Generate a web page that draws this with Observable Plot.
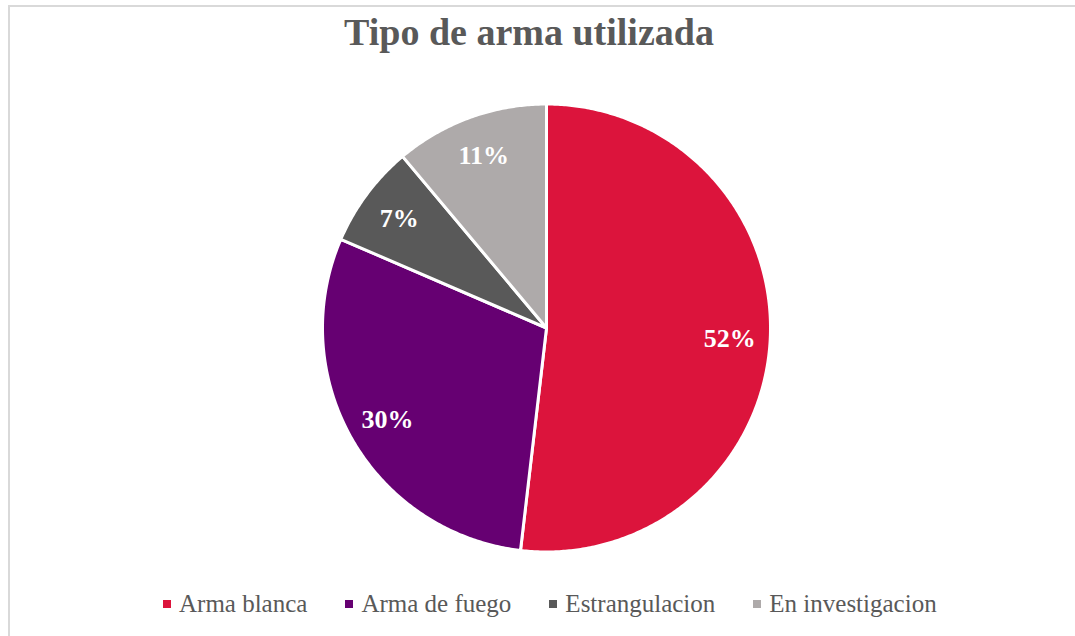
<!DOCTYPE html>
<html>
<head>
<meta charset="utf-8">
<script src="https://cdn.jsdelivr.net/npm/d3@7"></script>
<script src="https://cdn.jsdelivr.net/npm/@observablehq/plot@0.6"></script>
<style>
  html, body { margin: 0; padding: 0; background: #fff; }
  body { width: 1075px; height: 636px; overflow: hidden; position: relative;
         font-family: "Liberation Serif", "Times New Roman", serif; }
  #frame { position: absolute; left: 8px; top: 5px; width: 1200px; height: 800px;
           border-left: 2px solid #d9d9d9; border-top: 2px solid #d9d9d9; }
  #title { position: absolute; left: 0; width: 1058px; top: 12.5px; text-align: center;
           font-weight: bold; font-size: 38px; line-height: 38px; color: #595959; }
  #chart { position: absolute; left: 0; top: 70px; }
  #legend { position: absolute; left: 163px; top: 591px; font-size: 25px; line-height: 25px;
            color: #595959; white-space: nowrap; }
  .item { display: inline-block; margin-right: 38px; }
  .sw { display: inline-block; width: 8px; height: 8px; margin-right: 8px; margin-bottom: 4px;
        vertical-align: baseline; }
</style>
</head>
<body>
<div id="frame"></div>
<div id="title">Tipo de arma utilizada</div>
<div id="chart"></div>
<div id="legend"></div>
<script>
const categories = ["Arma blanca", "Arma de fuego", "Estrangulacion", "En investigacion"];
const counts = [14, 8, 2, 3];
const colors = ["#DC143C", "#660072", "#595959", "#AEAAAA"];

const total = d3.sum(counts);
const rows = categories.map((name, i) => ({
  name, value: counts[i], label: Math.round(counts[i] / total * 100) + "%"
}));
const arcs = d3.pie().sort(null).value(d => d.value)(rows);

// polygon outline of each slice on the unit circle (angle 0 at top, clockwise)
const poly = [];
for (const a of arcs) {
  const name = a.data.name;
  poly.push({name, x: 0, y: 0});
  const n = Math.max(2, Math.ceil((a.endAngle - a.startAngle) / (Math.PI / 360)));
  for (let k = 0; k <= n; k++) {
    const t = a.startAngle + (a.endAngle - a.startAngle) * k / n;
    poly.push({name, x: Math.sin(t), y: Math.cos(t)});
  }
  poly.push({name, x: 0, y: 0});
}

const labelRadius = 0.82;
const labelRows = arcs.map(a => {
  const m = (a.startAngle + a.endAngle) / 2;
  return {label: a.data.label, x: labelRadius * Math.sin(m), y: labelRadius * Math.cos(m)};
});

const W = 1075, H = 520;
const chart = Plot.plot({
  width: W,
  height: H,
  marginLeft: 322,
  marginRight: 305,
  marginTop: 33.5,
  marginBottom: 38.5,
  x: {domain: [-1, 1], axis: null},
  y: {domain: [-1, 1], axis: null},
  color: {domain: categories, range: colors},
  style: {background: "transparent", fontFamily: "Liberation Serif, serif"},
  marks: [
    Plot.line(poly, {x: "x", y: "y", z: "name", fill: "name", stroke: "white",
                     strokeWidth: 3, strokeLinejoin: "round", curve: "linear"}),
    Plot.text(labelRows, {x: "x", y: "y", text: "label", fill: "white",
                          fontSize: 26, fontWeight: "bold", fontFamily: "Liberation Serif, serif"})
  ]
});
document.getElementById("chart").appendChild(chart);

const legend = document.getElementById("legend");
categories.forEach((c, i) => {
  const item = document.createElement("span");
  item.className = "item";
  const sw = document.createElement("span");
  sw.className = "sw";
  sw.style.background = colors[i];
  item.appendChild(sw);
  item.appendChild(document.createTextNode(c));
  legend.appendChild(item);
});
</script>
</body>
</html>
